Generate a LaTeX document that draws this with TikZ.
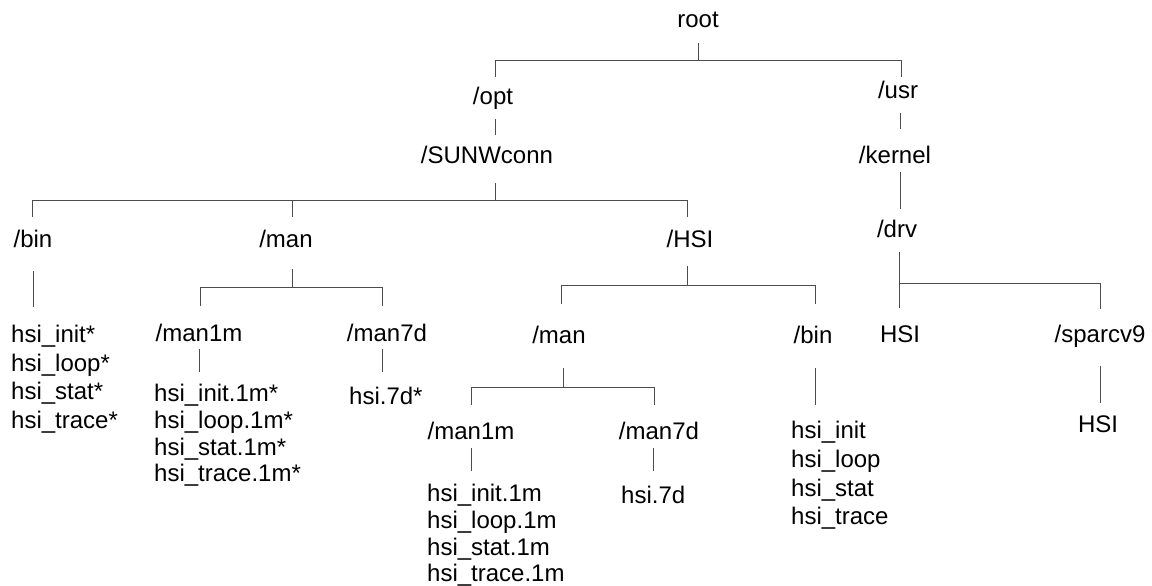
\documentclass[tikz,border=0pt]{standalone}
\usepackage{fontspec}
\setmainfont{Liberation Sans}
\begin{document}
\begin{tikzpicture}[x=1pt,y=-1pt,
  lbl/.style={inner sep=0pt, anchor=base, font=\fontsize{24}{28.7}\selectfont},
  files/.style={inner sep=0pt, anchor=north west, align=left, font=\fontsize{24}{28.7}\selectfont},
  tightfiles/.style={files, font=\fontsize{24}{26.7}\selectfont},
  link/.style={draw=black!70, line width=1pt}]
\useasboundingbox (0,0) rectangle (1152,586);

% ---- directory labels ----
\node[lbl] (root)    at (698,27.5)  {root};
\node[lbl] (opt)     at (493,104)   {/opt};
\node[lbl] (usr)     at (898,99)    {/usr};
\node[lbl] (sunw)    at (487,163)   {/SUNWconn};
\node[lbl] (kernel)  at (895,163)   {/kernel};
\node[lbl] (bin)     at (33,247)    {/bin};
\node[lbl] (man)     at (286,247)   {/man};
\node[lbl] (hsi)     at (690,247)   {/HSI};
\node[lbl] (drv)     at (897,237.5) {/drv};
\node[lbl] (hsidrv)  at (900,342.5) {HSI};
\node[lbl] (sparc)   at (1100,342.5){/sparcv9};
\node[lbl] (hsisp)   at (1098,432.5){HSI};
\node[lbl] (man1m)   at (199,341.5) {/man1m};
\node[lbl] (man7d)   at (387,341.5) {/man7d};
\node[lbl] (hman)    at (559,343.5) {/man};
\node[lbl] (hbin)    at (813,343.5) {/bin};
\node[lbl] (hman1m)  at (471,439.5) {/man1m};
\node[lbl] (hman7d)  at (659,439.5) {/man7d};

% ---- file lists ----
\node[files] (binfiles) at (11,324.8)
  {hsi\_init*\\hsi\_loop*\\hsi\_stat*\\hsi\_trace*};
\node[tightfiles] (man1mfiles) at (154,384.3)
  {hsi\_init.1m*\\hsi\_loop.1m*\\hsi\_stat.1m*\\hsi\_trace.1m*};
\node[lbl, anchor=base west] (man7dfile) at (349,404.5) {hsi.7d*};
\node[files] (hbinfiles) at (791,421.3)
  {hsi\_init\\hsi\_loop\\hsi\_stat\\hsi\_trace};
\node[tightfiles] (hman1mfiles) at (427,484.3)
  {hsi\_init.1m\\hsi\_loop.1m\\hsi\_stat.1m\\hsi\_trace.1m};
\node[lbl, anchor=base west] (hman7dfile) at (621,503.5) {hsi.7d};

% ---- connector end points and junctions ----
\coordinate (root-s) at (698,43);   \coordinate (root-j) at (698,61);
\coordinate (opt-t) at (495,77);    \coordinate (usr-t) at (901,77);
\coordinate (opt-b) at (495,119);   \coordinate (sunw-t) at (495,135);
\coordinate (sunw-s) at (495,183);  \coordinate (sunw-j) at (495,200);
\coordinate (bin-t) at (32,217);    \coordinate (man-t) at (292,217);
\coordinate (hsi-t) at (687,217);
\coordinate (usr-b) at (900,113);   \coordinate (kernel-t) at (900,129);
\coordinate (kernel-b) at (900,172);\coordinate (drv-t) at (900,209);
\coordinate (drv-s) at (899,252);   \coordinate (drv-j) at (899,283);
\coordinate (hsidrv-t) at (899,308);\coordinate (sparc-t) at (1100,309);
\coordinate (sparc-b) at (1100,366);\coordinate (hsisp-t) at (1100,403);
\coordinate (bin-b) at (33,271);    \coordinate (binfiles-t) at (33,307);
\coordinate (man-s) at (292,269);   \coordinate (man-j) at (292,287);
\coordinate (man1m-t) at (200,306); \coordinate (man7d-t) at (382,306);
\coordinate (man1m-b) at (199,349); \coordinate (man1mfiles-t) at (199,372);
\coordinate (man7d-b) at (382,349); \coordinate (man7dfile-t) at (382,372);
\coordinate (hsi-s) at (687,266);   \coordinate (hsi-j) at (687,285);
\coordinate (hman-t) at (561,304);  \coordinate (hbin-t) at (815,304);
\coordinate (hman-s) at (563,368);  \coordinate (hman-j) at (563,387);
\coordinate (hman1m-t) at (471,405);\coordinate (hman7d-t) at (654,405);
\coordinate (hbin-b) at (815,368);  \coordinate (hbinfiles-t) at (815,405);
\coordinate (hman1m-b) at (471,448);\coordinate (hman1mfiles-t) at (471,471);
\coordinate (hman7d-b) at (653,448);\coordinate (hman7dfile-t) at (653,471);

% ---- connectors ----
% root -> /opt, /usr
\draw[link] (root-s) -- (root-j);
\draw[link] (opt-t) -- (opt-t |- root-j) -- (usr-t |- root-j) -- (usr-t);
% /opt -> /SUNWconn
\draw[link] (opt-b) -- (sunw-t);
% /SUNWconn -> /bin, /man, /HSI
\draw[link] (sunw-s) -- (sunw-j);
\draw[link] (bin-t) -- (bin-t |- sunw-j) -- (hsi-t |- sunw-j) -- (hsi-t);
\draw[link] (man-t |- sunw-j) -- (man-t);
% /usr -> /kernel -> /drv
\draw[link] (usr-b) -- (kernel-t);
\draw[link] (kernel-b) -- (drv-t);
% /drv -> HSI, /sparcv9
\draw[link] (drv-s) -- (hsidrv-t);
\draw[link] (drv-j) -- (sparc-t |- drv-j) -- (sparc-t);
\draw[link] (sparc-b) -- (hsisp-t);
% /bin -> files
\draw[link] (bin-b) -- (binfiles-t);
% /man -> /man1m, /man7d
\draw[link] (man-s) -- (man-j);
\draw[link] (man1m-t) -- (man1m-t |- man-j) -- (man7d-t |- man-j) -- (man7d-t);
\draw[link] (man1m-b) -- (man1mfiles-t);
\draw[link] (man7d-b) -- (man7dfile-t);
% /HSI -> /man, /bin
\draw[link] (hsi-s) -- (hsi-j);
\draw[link] (hman-t) -- (hman-t |- hsi-j) -- (hbin-t |- hsi-j) -- (hbin-t);
\draw[link] (hman-s) -- (hman-j);
\draw[link] (hman1m-t) -- (hman1m-t |- hman-j) -- (hman7d-t |- hman-j) -- (hman7d-t);
\draw[link] (hbin-b) -- (hbinfiles-t);
\draw[link] (hman1m-b) -- (hman1mfiles-t);
\draw[link] (hman7d-b) -- (hman7dfile-t);
\end{tikzpicture}
\end{document}
